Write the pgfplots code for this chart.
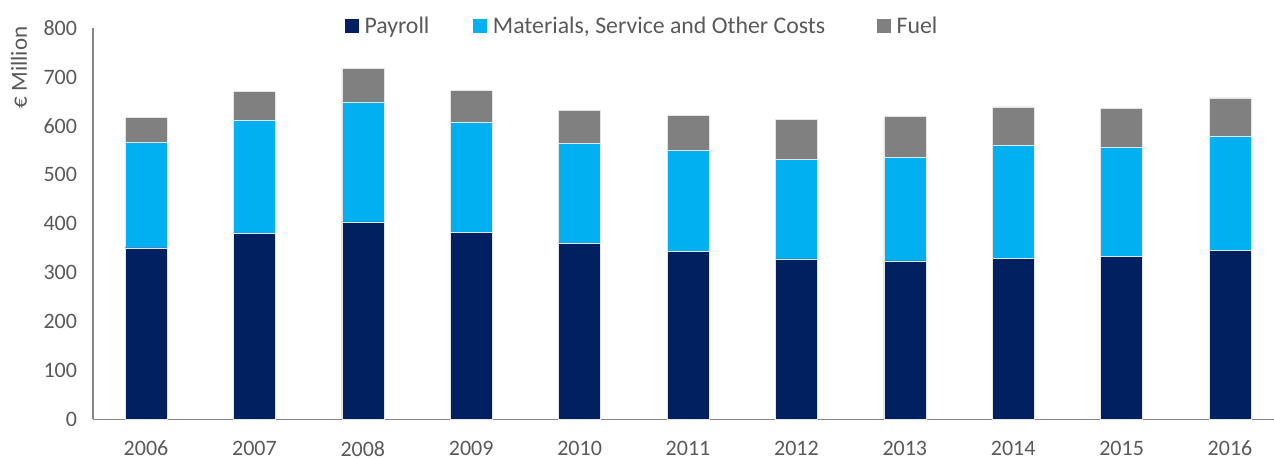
\documentclass[border=0pt]{standalone}
\usepackage{fontspec}
\setmainfont{Carlito}
\usepackage{pgfplots}
\pgfplotsset{compat=1.18}
\definecolor{payroll}{HTML}{002060}
\definecolor{materials}{HTML}{00B0F0}
\definecolor{fuel}{HTML}{808080}
\definecolor{txt}{HTML}{595959}
\definecolor{axisgray}{HTML}{868686}
\begin{document}
\begin{tikzpicture}[x=1pt,y=1pt]
\useasboundingbox (0,0) rectangle (1274,460);
\begin{axis}[
  at={(93pt,40.5pt)}, anchor=south west,
  scale only axis, width=1181pt, height=391.5pt,
  ybar stacked, bar width=42pt,
  xmin=-0.489, xmax=10.406, ymin=0, ymax=800,
  xtick={0,...,10},
  xticklabels={2006,2007,2008,2009,2010,2011,2012,2013,2014,2015,2016},
  ytick={0,100,...,800},
  axis x line=bottom, axis y line=left,
  axis line style={axisgray, line width=1.5pt, -},
  major tick length=0pt,
  tick label style={font=\fontsize{22}{26}\selectfont, text=txt},
  /pgf/number format/assume math mode=true,
  xticklabel style={inner sep=0pt, outer sep=0pt, yshift=-21.5pt},
  yticklabel style={xshift=-12.5pt},
  clip=false,
  legend columns=3,
  legend image code/.code={\fill[#1, draw=none] (0pt,-7pt) rectangle (14pt,7pt);},
  legend style={draw=none, fill=none, inner sep=0pt, outer sep=0pt,
    at={(rel axis cs:0.2134,1.0051)}, anchor=west,
    font=\fontsize{23.8}{27}\selectfont, text=txt,
    nodes={inner sep=0pt},
    column sep=0pt},
]
\addplot[fill=payroll, draw=white!80!gray, line width=0.4pt] coordinates
  {(0,351) (1,380) (2,404) (3,382) (4,360) (5,344) (6,328) (7,324) (8,330) (9,333) (10,345)};
\addplot[fill=materials, draw=white!80!gray, line width=0.4pt] coordinates
  {(0,216) (1,232) (2,245) (3,225) (4,205) (5,206) (6,204) (7,211) (8,231) (9,224) (10,234)};
\addplot[fill=fuel, draw=white!80!gray, line width=0.4pt] coordinates
  {(0,50) (1,58) (2,69) (3,66) (4,67) (5,72) (6,81) (7,84) (8,78) (9,79) (10,78)};
\legend{{\hspace*{5.5pt}Payroll\hspace*{44pt}}, {\hspace*{5.5pt}Materials, Service and Other Costs\hspace*{52pt}}, {\hspace*{5.5pt}Fuel}}
\end{axis}
\node[rotate=90, font=\fontsize{23}{27}\selectfont, text=txt] at (19,392.5) {€ Million};
\end{tikzpicture}
\end{document}
